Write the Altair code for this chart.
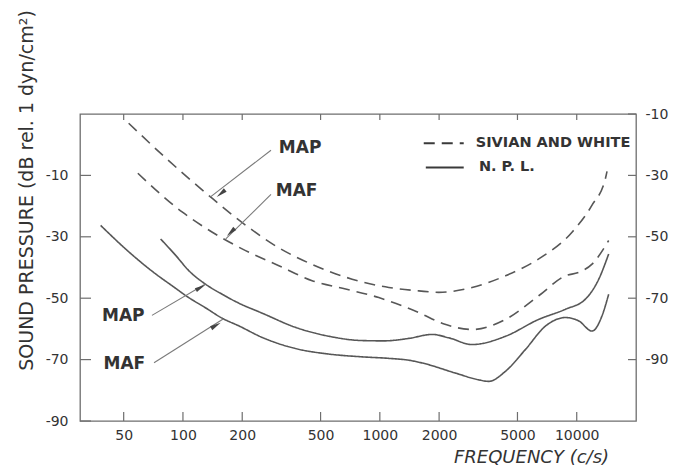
import altair as alt
import pandas as pd

# ---------------- data ----------------
freq_ticks = [50, 100, 200, 500, 1000, 2000, 5000, 10000]
left_ticks = [-90, -70, -50, -30, -10]
right_ticks = [-90, -70, -50, -30, -10]

# Sivian and White, minimum audible pressure (upper dashed)
sw_map_freq = [53, 82, 138, 208, 307, 453, 723, 1111, 1578, 1991, 2941, 4347, 6412, 9465, 11960, 13990, 14250]
sw_map_db = [7.0, -4.4, -17.0, -26.2, -33.6, -39.0, -43.8, -46.5, -47.6, -48.1, -46.5, -42.7, -37.2, -28.5, -19.7, -11.0, -8.7]

# Sivian and White, minimum audible field (lower dashed)
sw_maf_freq = [59, 99, 141, 208, 307, 453, 670, 988, 1578, 2100, 2941, 4347, 6412, 8767, 10240, 11960, 14530]
sw_maf_db = [-9.3, -21.9, -28.5, -34.5, -39.4, -44.3, -47.0, -49.8, -54.7, -58.3, -60.2, -56.9, -49.2, -42.7, -41.6, -38.9, -31.2]

# N.P.L., minimum audible pressure (upper solid)
npl_map_freq = [77, 92, 107, 130, 158, 192, 253, 373, 551, 813, 1050, 1403, 1843, 2240, 2941, 4347, 6412, 8767, 11070, 12940, 14530]
npl_map_db = [-30.7, -36.1, -41.0, -45.4, -48.7, -51.6, -54.9, -59.5, -62.4, -63.8, -63.9, -63.1, -61.8, -62.9, -65.1, -62.4, -56.9, -53.6, -50.3, -43.8, -35.6]

# N.P.L., minimum audible field (lower solid)
npl_maf_freq = [38.2, 55.3, 72.7, 88.3, 107, 130, 158, 192, 253, 373, 551, 813, 1111, 1403, 1640, 2423, 3181, 3574, 4347, 5490, 6935, 8767, 10240, 11960, 13430, 14530]
npl_maf_db = [-26.3, -35.9, -42.1, -46.0, -49.8, -53.1, -56.5, -59.0, -62.8, -66.4, -68.2, -69.1, -69.6, -70.2, -71.1, -74.4, -76.6, -77.1, -73.8, -66.7, -59.1, -56.3, -57.4, -60.7, -55.8, -48.7]

# curve labels with leader arrows
ann_text = ["MAP", "MAF", "MAP", "MAF"]
ann_text_freq = [307, 296, 38.8, 39.5]
ann_text_db = [-1.1, -15.2, -55.9, -71.3]
lead_from_freq = [280, 280, 69.6, 71.3]
lead_from_db = [-1.8, -16.2, -55.6, -71.0]
lead_to_freq = [138, 165, 130, 160]
lead_to_db = [-17.0, -30.7, -45.4, -56.8]
arrow_freq = [156, 175, 123, 147]
arrow_db = [-15.9, -28.5, -46.5, -58.9]
arrow_angle = [231, 226, 61, 60]

# legend
legend_labels = ["SIVIAN AND WHITE", "N. P. L."]
legend_source = ["SW", "NPL"]
legend_db = [0.5, -7.4]
legend_f1 = [1671, 1712]
legend_f2 = [2667, 2667]
legend_text_freq = [3069, 3185]

# ---------------- build tables ----------------
rows = []
for name, src, fs, ds in [
    ("sw_map", "SW", sw_map_freq, sw_map_db),
    ("sw_maf", "SW", sw_maf_freq, sw_maf_db),
    ("npl_map", "NPL", npl_map_freq, npl_map_db),
    ("npl_maf", "NPL", npl_maf_freq, npl_maf_db),
]:
    for f, d in zip(fs, ds):
        rows.append({"curve": name, "source": src, "freq": f, "db": d})
curves_df = pd.DataFrame(rows)

ann_df = pd.DataFrame({"text": ann_text, "freq": ann_text_freq, "db": ann_text_db})
lead_df = pd.DataFrame({"freq": lead_from_freq, "db": lead_from_db, "f2": lead_to_freq, "d2": lead_to_db})
arrow_df = pd.DataFrame({"freq": arrow_freq, "db": arrow_db, "ang": arrow_angle})
leg_df = pd.DataFrame({"label": legend_labels, "source": legend_source, "db": legend_db,
                       "freq": legend_f1, "f2": legend_f2, "ft": legend_text_freq})

W, H = 556, 307
FONT = "DejaVu Sans"
INK = "#333333"
LINE = "#575757"
FRAME = "#6e6e6e"

xscale = alt.Scale(type="log", domain=[30, 20000], nice=False)
yscale = alt.Scale(domain=[-90, 10], nice=False, zero=False)
dash_scale = alt.Scale(domain=["SW", "NPL"], range=[[11, 7], [1, 0]])

x_axis = alt.Axis(values=freq_ticks, format="d", ticks=False, domain=False, grid=False,
                  labelFont=FONT, labelFontSize=14, labelColor=INK, labelPadding=7,
                  labelFlush=False, labelOverlap=False,
                  title="FREQUENCY (c/s)", titleFont=FONT, titleFontSize=18,
                  titleFontStyle="italic", titleFontWeight="normal", titleColor=INK,
                  titleX=451, titleY=36, titleAlign="center", titleBaseline="middle")
y_axis = alt.Axis(values=left_ticks, labelExpr="'-' + abs(datum.value)", ticks=False,
                  domain=False, grid=False, labelFont=FONT, labelFontSize=14,
                  labelColor=INK, labelPadding=12,
                  title="SOUND PRESSURE (dB rel. 1 dyn/cm²)", titleFont=FONT,
                  titleFontSize=19, titleFontWeight="normal", titleColor=INK,
                  titleAngle=270, titleX=-54, titleY=76, titleAlign="center",
                  titleBaseline="middle")


def X(field):
    return alt.X(field, type="quantitative", scale=xscale, axis=x_axis)


def Y(field):
    return alt.Y(field, type="quantitative", scale=yscale, axis=y_axis)


curves = alt.Chart(curves_df).mark_line(interpolate="monotone", strokeWidth=1.6, color=LINE).encode(
    x=X("freq"), y=Y("db"),
    detail="curve:N",
    strokeDash=alt.StrokeDash("source:N", scale=dash_scale, legend=None),
)

leaders = alt.Chart(lead_df).mark_rule(color="#7a7a7a", strokeWidth=1.1).encode(
    x=X("freq"), x2="f2:Q", y=Y("db"), y2="d2:Q",
)

arrows = alt.Chart(arrow_df).mark_point(shape="M0,-1L0.4,1L-0.4,1Z", filled=True,
                                        size=120, color="#444444", opacity=1).encode(
    x=X("freq"), y=Y("db"),
    angle=alt.Angle("ang:Q", scale=None),
)

labels = alt.Chart(ann_df).mark_text(align="left", baseline="middle", font=FONT, fontSize=17,
                                     fontWeight="bold", color=INK).encode(
    x=X("freq"), y=Y("db"), text="text:N",
)

leg_lines = alt.Chart(leg_df).mark_rule(strokeWidth=2, color="#3a3a3a").encode(
    x=X("freq"), x2="f2:Q", y=Y("db"),
    strokeDash=alt.StrokeDash("source:N", scale=alt.Scale(domain=["SW", "NPL"], range=[[7, 5], [1, 0]]), legend=None),
)
leg_text = alt.Chart(leg_df).mark_text(align="left", baseline="middle", font=FONT, fontSize=14.5,
                                       fontWeight="bold", color=INK).encode(
    x=alt.X("ft:Q", scale=xscale, axis=x_axis), y=Y("db"), text="label:N",
)

ftick_df = pd.DataFrame({"freq": freq_ticks})
ltick_df = pd.DataFrame({"db": left_ticks})
bottom_ticks = alt.Chart(ftick_df).mark_rule(color=FRAME, strokeWidth=1.2).encode(
    x=X("freq"), y=alt.value(H), y2=alt.value(H - 9))
top_ticks = alt.Chart(ftick_df).mark_rule(color=FRAME, strokeWidth=1.2).encode(
    x=X("freq"), y=alt.value(0), y2=alt.value(6))
left_tick_marks = alt.Chart(ltick_df).mark_rule(color=FRAME, strokeWidth=1.2).encode(
    y=Y("db"), x=alt.value(0), x2=alt.value(11))

inner = alt.layer(curves, leaders, arrows, labels, leg_lines, leg_text,
                  bottom_ticks, top_ticks, left_tick_marks)

right = alt.Chart(pd.DataFrame({"db_r": right_ticks})).mark_rule(color=FRAME, strokeWidth=1.2).encode(
    y=alt.Y("db_r:Q", scale=alt.Scale(domain=[-110, -10], nice=False, zero=False),
            axis=alt.Axis(orient="right", values=right_ticks, labelExpr="'-' + abs(datum.value)",
                          ticks=False, domain=False, grid=False, labelFont=FONT, labelFontSize=14,
                          labelColor=INK, labelPadding=9, title=None)),
    x=alt.value(W - 8), x2=alt.value(W),
)

chart = alt.layer(inner, right).resolve_scale(y="independent").properties(
    width=W, height=H,
    autosize=alt.AutoSizeParams(type="none"),
    padding={"left": 80, "top": 114, "right": 63, "bottom": 45},
    background="white",
).configure_view(stroke=FRAME, strokeWidth=1.3)

chart.save("out.html", embed_options={"renderer": "svg", "actions": False})
